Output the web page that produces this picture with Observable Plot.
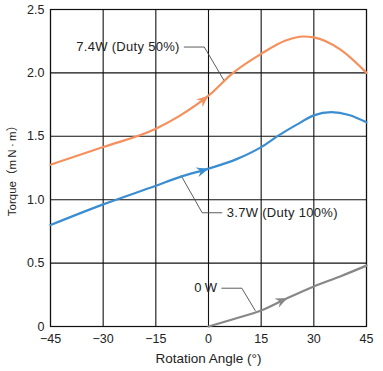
<!DOCTYPE html>
<html>
<head>
<meta charset="utf-8">
<script src="https://cdn.jsdelivr.net/npm/d3@7"></script>
<script src="https://cdn.jsdelivr.net/npm/@observablehq/plot@0.6"></script>
<style>
  html, body { margin: 0; padding: 0; background: #fff; }
  #chart svg { display: block; }
</style>
</head>
<body>
<div id="chart"></div>
<script>
// ---- data ----
const xTicks = [-45, -30, -15, 0, 15, 30, 45];
const yTicks = [0, 0.5, 1.0, 1.5, 2.0, 2.5];
const yTickLabels = ["0", "0.5", "1.0", "1.5", "2.0", "2.5"];

const angle74 = [-45, -30, -15, -8, 0, 7, 15, 22, 27, 30, 37.5, 45];
const torque74 = [1.276, 1.415, 1.56, 1.665, 1.82, 2.0, 2.15, 2.255, 2.287, 2.28, 2.185, 2.0];

const angle37 = [-45, -30, -15, -8, 0, 8, 15, 20, 25, 30, 35, 40, 45];
const torque37 = [0.80, 0.963, 1.11, 1.18, 1.245, 1.32, 1.415, 1.507, 1.59, 1.665, 1.69, 1.668, 1.61];

const angle0 = [0, 7.5, 15, 22.5, 30, 37.5, 45];
const torque0 = [0, 0.061, 0.126, 0.224, 0.316, 0.395, 0.48];

const seriesNames = ["7.4W", "3.7W", "0W"];
const seriesColors = ["#f5905c", "#3a8dd0", "#878787"];
const seriesLabels = ["7.4W (Duty 50%)", "3.7W (Duty 100%)", "0\u2009W"];
const arrowAngles = [0, 0, 22.5];

// annotation leader lines [angle, torque]
const leader74 = [[-6.9, 2.204], [-1.2, 2.204], [4.55, 1.934]];
const leader37 = [[-7.8, 1.19], [-1.8, 0.897], [3.8, 0.897]];
const leader0 = [[3.8, 0.302], [9.5, 0.302], [13.3, 0.126]];
const labelPos = [[-8.2, 2.204, "end"], [5.2, 0.897, "start"], [2.5, 0.302, "end"]];

// ---- build ----
const W = 383, H = 371;
const mL = 50, mR = 17, mT = 9, mB = 45;
const font = "'Liberation Sans', Arial, 'Noto Sans CJK JP', sans-serif";

const series = [
  angle74.map((a, i) => ({s: seriesNames[0], x: a, y: torque74[i]})),
  angle37.map((a, i) => ({s: seriesNames[1], x: a, y: torque37[i]})),
  angle0.map((a, i) => ({s: seriesNames[2], x: a, y: torque0[i]}))
];

const pxX = (W - mL - mR) / 90;
const pxY = (H - mT - mB) / 2.5;

function interp(pts, x) {
  for (let i = 0; i < pts.length - 1; i++) {
    if (x >= pts[i].x && x <= pts[i + 1].x) {
      const t = (x - pts[i].x) / (pts[i + 1].x - pts[i].x);
      return pts[i].y + t * (pts[i + 1].y - pts[i].y);
    }
  }
  return pts[pts.length - 1].y;
}
const arrows = series.map((pts, k) => {
  const x = arrowAngles[k];
  const y = interp(pts, x);
  const y1 = interp(pts, x - 3), y2 = interp(pts, x + 3);
  const rot = Math.atan2(-(y2 - y1) * pxY, 6 * pxX) * 180 / Math.PI;
  return {x, y, rot, color: seriesColors[k]};
});

const arrowHead = {
  draw(ctx, size) {
    ctx.moveTo(0, 0);
    ctx.lineTo(-12, -5);
    ctx.lineTo(-8, 0);
    ctx.lineTo(-12, 5);
    ctx.closePath();
  }
};

const leaders = [leader74, leader37, leader0].map(l => l.map(([x, y]) => ({x, y})));

const chart = Plot.plot({
  width: W, height: H,
  marginLeft: mL, marginRight: mR, marginTop: mT, marginBottom: mB,
  style: {fontFamily: font, fontSize: "12.5px", color: "#222", background: "#fff"},
  x: {domain: [-45, 45], ticks: xTicks},
  y: {domain: [0, 2.5], ticks: yTicks},
  marks: [
    Plot.gridX(xTicks, {stroke: "#111", strokeOpacity: 1, strokeWidth: 1.1}),
    Plot.gridY(yTicks, {stroke: "#111", strokeOpacity: 1, strokeWidth: 1.1}),
    Plot.frame({stroke: "#111", strokeWidth: 1.2}),
    Plot.axisX({ticks: xTicks, tickSize: 0, tickPadding: 8, fontSize: 12.5, label: null}),
    Plot.axisY({ticks: yTicks, tickSize: 0, tickPadding: 6, fontSize: 12.5,
      tickFormat: (d) => yTickLabels[yTicks.indexOf(d)], label: null}),
    Plot.axisX({ticks: [], tickSize: 0, fontSize: 13.5,
      label: "Rotation Angle (°)", labelAnchor: "center", labelOffset: 36, labelArrow: "none"}),
    Plot.axisY({ticks: [], tickSize: 0, fontSize: 11.5,
      label: "Torque（m\u2009N\u2009·\u2009m）", labelAnchor: "center", labelOffset: 43, labelArrow: "none"}),
    ...leaders.map(l => Plot.line(l, {x: "x", y: "y", stroke: "#4a4a4a", strokeWidth: 0.9})),
    ...series.map((pts, k) => Plot.line(pts, {x: "x", y: "y", stroke: seriesColors[k], strokeWidth: 2.2, curve: "monotone-x"})),
    Plot.dot(arrows, {x: "x", y: "y", fill: "color", stroke: null, symbol: arrowHead, r: 5, rotate: "rot"}),
    ...labelPos.map(([x, y, anchor], k) => Plot.text([seriesLabels[k]], {x: () => x, y: () => y, text: d => d,
      textAnchor: anchor, lineAnchor: "middle", fill: "#222", fontSize: 13}))
  ]
});
// slight letter spacing on annotation labels to match the reference's loose setting
chart.querySelectorAll("g[aria-label='text'] text").forEach(t => t.setAttribute("letter-spacing", "0.3"));
document.getElementById("chart").appendChild(chart);
</script>
</body>
</html>
